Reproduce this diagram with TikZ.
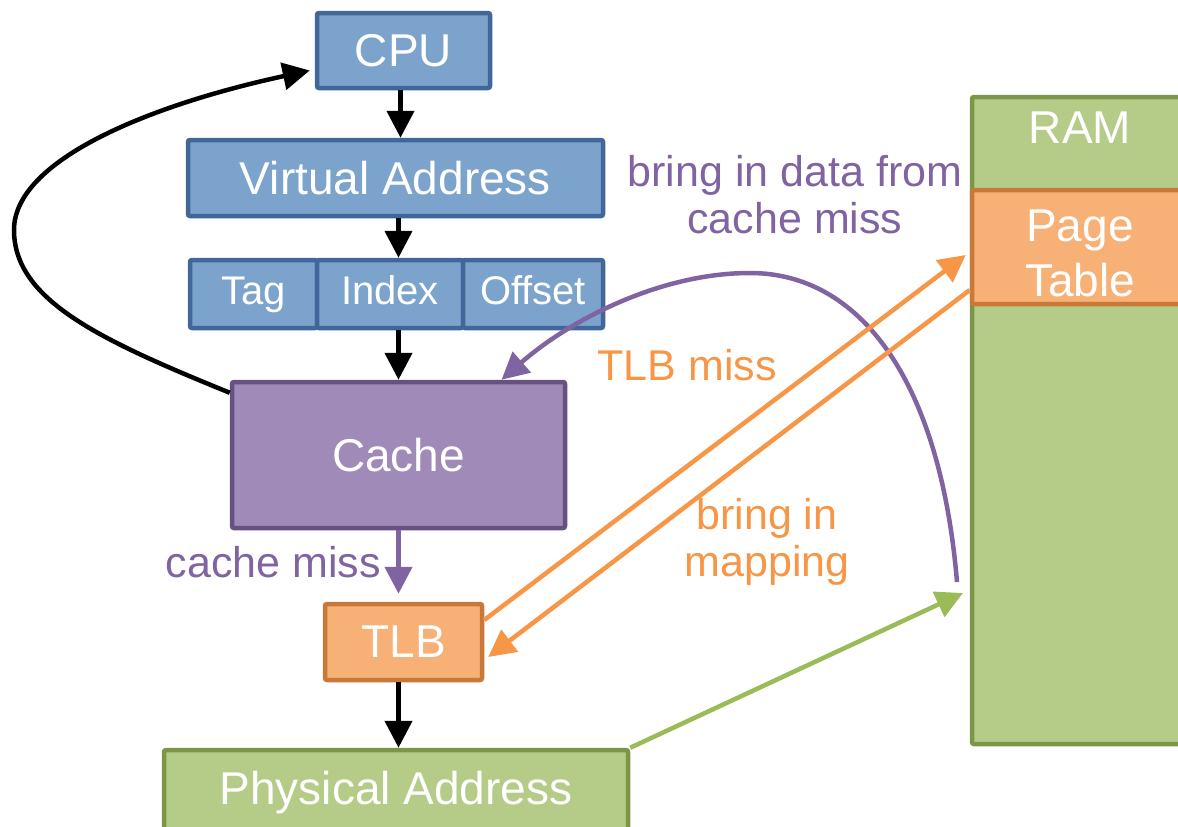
\documentclass[tikz,border=0pt]{standalone}
\usepackage{fontspec}
\setmainfont{Liberation Sans}
\usetikzlibrary{arrows.meta,calc}

\definecolor{blueFill}{HTML}{7CA3CC}
\definecolor{blueLine}{HTML}{41679A}
\definecolor{purpleFill}{HTML}{A08AB7}
\definecolor{purpleLine}{HTML}{675082}
\definecolor{missPurple}{HTML}{8064A2}
\definecolor{orangeFill}{HTML}{F7B075}
\definecolor{orangeLine}{HTML}{C87838}
\definecolor{tlbOrange}{HTML}{F79646}
\definecolor{greenFill}{HTML}{B5CB88}
\definecolor{greenLine}{HTML}{7A9646}
\definecolor{physGreen}{HTML}{9BBB59}

\begin{document}
\begin{tikzpicture}[x=1pt,y=-1pt,
  box/.style={draw, line width=4.5pt, rounded corners=2pt, text=white, inner sep=0pt, anchor=center},
  bluebox/.style={box, fill=blueFill, draw=blueLine},
  purplebox/.style={box, fill=purpleFill, draw=purpleLine},
  orangebox/.style={box, fill=orangeFill, draw=orangeLine},
  greenbox/.style={box, fill=greenFill, draw=greenLine},
  bigtext/.style={font=\fontsize{46}{55}\selectfont},
  midtext/.style={font=\fontsize{40}{44}\selectfont, text height=29pt, text depth=9pt},
  labeltext/.style={font=\fontsize{43}{47}\selectfont, inner sep=0pt, align=center},
  tip/.style={-{Triangle[length=27pt,width=27pt]}},
  link/.style={tip, line width=4.5pt, black},
  misslink/.style={tip, line width=4.5pt, missPurple},
  maplink/.style={tip, line width=4.5pt, tlbOrange},
  physlink/.style={tip, line width=4.5pt, physGreen},
]
\useasboundingbox (0,0) rectangle (1178,827);
\clip (0,0) rectangle (1178,827);

% memory on the right
\node[greenbox, minimum width=218pt, minimum height=647pt] (ram) at (1081,420.5) {};
\node[bigtext, text=white, inner sep=0pt] (ramlabel) at (1080,128) {RAM};
\node[orangebox, minimum width=218pt, minimum height=114pt] (pt) at (1081,247) {};
\node[bigtext, text=white, inner sep=0pt, align=center] (ptlabel) at (1080,253) {Page\\Table};

% lookup pipeline
\node[bluebox, bigtext, minimum width=173pt, minimum height=75pt] (cpu) at (403.5,50.5) {CPU};
\node[bluebox, bigtext, minimum width=415pt, minimum height=76pt] (va) at (395.5,178) {Virtual Address};
\node[bluebox, midtext, minimum width=127pt, minimum height=68pt] (tag) at (253.5,294) {Tag};
\node[bluebox, midtext, minimum width=146pt, minimum height=68pt] (index) at (390,294) {Index};
\node[bluebox, midtext, minimum width=140pt, minimum height=68pt] (offset) at (533,294) {Offset};
\node[purplebox, bigtext, minimum width=333pt, minimum height=146pt] (cache) at (398.5,455) {Cache};
\node[orangebox, bigtext, minimum width=157pt, minimum height=76pt] (tlb) at (403.5,642) {TLB};
\node[greenbox, bigtext, minimum width=464pt, minimum height=86pt] (pa) at (396,793) {Physical Address};

% straight flow
\draw[link] ([xshift=-3pt]cpu.south) -- ([xshift=-3pt]cpu.south |- va.north);
\draw[link] ([xshift=3pt]va.south) -- ([xshift=3pt]va.south |- index.north);
\draw[link] (cache.north |- index.south) -- (cache.north);
\draw[misslink] (cache.south) -- ([yshift=8pt]cache.south |- tlb.north);
\draw[link] (cache.south |- tlb.south) -- (cache.south |- pa.north);

% cache hit returns to the CPU
\draw[link] ([yshift=-13pt]cache.north west)
  .. controls (100,340) and (14,300) .. (14,230)
  .. controls (14,160) and (150,105) .. ([xshift=-5pt,yshift=-20pt]cpu.west);

% data brought back from memory
\coordinate (memsrc) at (957,582);
\draw[misslink] (memsrc)
  .. controls (940,380) and (860,273) .. (750,273)
  .. controls (660,273) and (570,320) .. ([xshift=103pt]cache.north);

% page table walk
\draw[maplink] ([yshift=22pt]tlb.east) -- ([xshift=-4pt,yshift=-8pt]pt.west);
\draw[maplink] ([yshift=-43pt]pt.west) -- ([xshift=4pt,yshift=-15pt]tlb.east);

% physical access
\coordinate (ramin) at (963,593);
\draw[physlink] (pa.north east) -- (ramin);

% labels
\node[labeltext, text=missPurple] (datalabel) at (795,195) {bring in data from\\cache miss};
\node[labeltext, text=tlbOrange] (tlbmiss) at (687,365) {TLB miss};
\node[labeltext, text=tlbOrange] (maplabel) at (767,542) {bring in\\mapping};
\node[labeltext, text=missPurple, anchor=east] (misslabel) at (381,562) {cache miss};
\end{tikzpicture}
\end{document}
